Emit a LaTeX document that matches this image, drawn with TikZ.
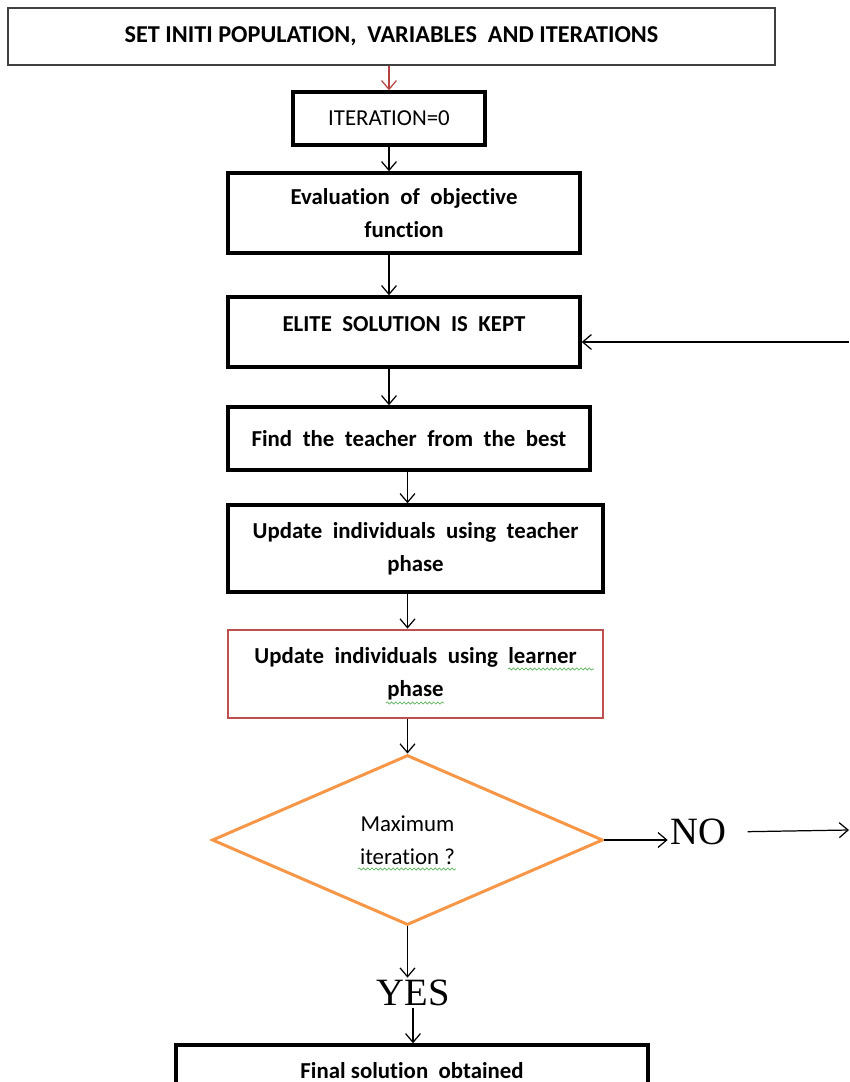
\documentclass[tikz,border=0pt]{standalone}
\usepackage{fontspec}
\setmainfont{Carlito}[Ligatures={NoCommon}]
\newfontfamily\timesfont{Liberation Serif}
\usetikzlibrary{arrows.meta,shapes.geometric,decorations.pathmorphing}

\definecolor{boxred}{HTML}{C0504D}
\definecolor{arrowred}{HTML}{B5433F}
\definecolor{diaorange}{HTML}{F79646}
\definecolor{spellgreen}{HTML}{5DB55D}

\newcommand\widewords{\spaceskip=0.46em plus 0.1em\relax}

\tikzset{
  box/.style={draw, rectangle, inner sep=0pt, align=center,
    font=\fontsize{13}{19}\selectfont\bfseries\widewords},
  thinbox/.style={box, draw=black!75, line width=0.9pt,
    font=\fontsize{13.8}{19}\selectfont\bfseries},
  thickbox/.style={box, line width=2pt},
  redbox/.style={box, draw=boxred, line width=1.6pt},
  decision/.style={diamond, draw=diaorange, line width=1.7pt, inner sep=0pt,
    align=center, font=\fontsize{13}{19}\selectfont},
  answer/.style={inner sep=1pt, font=\timesfont\fontsize{22}{26}\selectfont},
  spell/.style={spellgreen, line width=0.4pt, decorate,
    decoration={snake, amplitude=0.6pt, segment length=2.4pt}}
}

\begin{document}
\begin{tikzpicture}[x=0.02cm, y=-0.02cm, line width=0.7pt,
    >={Straight Barb[length=5pt,width=8.5pt]}]
  \clip (0,0) rectangle (849,1082);

  \node[thinbox, minimum width=15.34cm, minimum height=1.14cm] (init) at (391.5,36.5)
    {SET INITI POPULATION,\ \ VARIABLES\ \ AND ITERATIONS};
  \node[thickbox, minimum width=3.84cm, minimum height=1.06cm,
    font=\fontsize{13}{19}\selectfont] (iter) at (389,118.5) {ITERATION=0};
  \node[thickbox, minimum width=7.04cm, minimum height=1.6cm] (eval) at (404,213)
    {Evaluation of objective\\function};
  \node[thickbox, minimum width=7.04cm, minimum height=1.4cm, text depth=9pt] (elite) at (404,332)
    {ELITE SOLUTION IS KEPT};
  \node[thickbox, minimum width=7.24cm, minimum height=1.26cm] (teacher) at (409,438.5)
    {Find the teacher from the best};
  \node[thickbox, minimum width=7.5cm, minimum height=1.74cm] (tphase) at (415.5,548.5)
    {Update individuals using teacher\\phase};
  \node[redbox, minimum width=7.5cm, minimum height=1.76cm] (lphase) at (415.5,674)
    {Update individuals using learner\\phase};
  \node[decision, minimum width=7.82cm, minimum height=3.4cm] (maxit) at (407.5,840)
    {Maximum\\iteration ?};
  \node[answer] (no) at (698,832) {NO};
  \node[answer] (yes) at (413,993) {YES};
  \node[thickbox, minimum width=9.44cm, minimum height=1.4cm, text depth=11pt,
    font=\fontsize{13}{19}\selectfont\bfseries] (final) at (412,1080)
    {Final solution\ \ obtained};

  \coordinate (backin) at (849,342);
  \coordinate (noout) at (849,830);

  % spelling marks
  \draw[spell] (508,669) -- (594,669);
  \draw[spell] (386,703) -- (444,703);
  \draw[spell] (358,869) -- (456,869);

  \draw[->, arrowred] (iter.north |- init.south) -- (iter.north);
  \draw[->] (iter.south) -- (iter.south |- eval.north);
  \draw[->] (eval.south -| iter) -- (elite.north -| iter);
  \draw[->] (elite.south -| iter) -- (teacher.north -| iter);
  \draw[->] (teacher.south -| maxit) -- (tphase.north -| maxit);
  \draw[->] (tphase.south -| maxit) -- (lphase.north -| maxit);
  \draw[->] (lphase.south -| maxit) -- (maxit.north);
  \draw[->] (backin) -- (backin -| elite.east);
  \draw[->] (maxit.east) -- (maxit.east -| no.west);
  \draw[->, shorten <=11pt] (no.east) -- (noout);
  \draw[->] (maxit.south) -- (maxit.south |- yes.north);
  \draw[->] (yes.south) -- (yes.south |- final.north);
\end{tikzpicture}
\end{document}
